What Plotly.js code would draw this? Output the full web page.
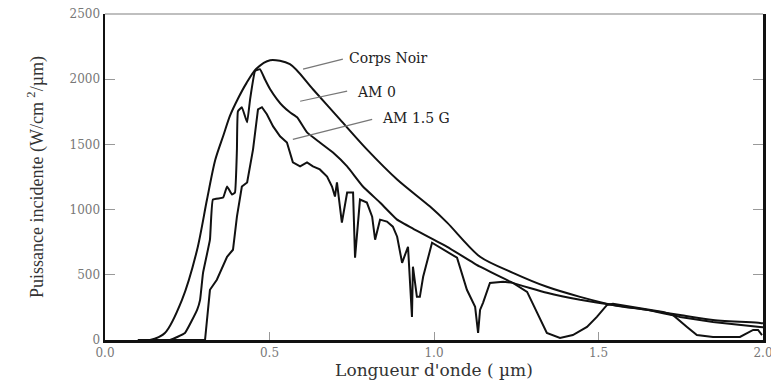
<!DOCTYPE html>
<html>
<head>
<meta charset="utf-8">
<script src="https://cdn.plot.ly/plotly-3.0.1.min.js"></script>
<style>html,body{margin:0;padding:0;background:#fff;}#chart{width:771px;height:385px;}</style>
</head>
<body>
<div id="chart"></div>
<script>
// Corps Noir (black body)
const cnX = [0.10,0.137,0.182,0.234,0.280,0.310,0.335,0.360,0.380,0.404,0.430,0.460,0.502,0.562,0.632,0.714,0.796,0.888,0.988,1.040,1.140,1.240,1.343,1.444,1.544,1.647,1.748,1.848,1.991,2.0];
const cnY = [0,0,54,308,692,1077,1380,1570,1720,1850,1970,2080,2146,2115,1923,1692,1462,1231,1023,900,638,515,408,331,269,231,192,154,131,128];

// AM 0
const am0X = [0.10,0.198,0.243,0.280,0.289,0.298,0.319,0.328,0.359,0.371,0.386,0.395,0.401,0.404,0.416,0.432,0.441,0.456,0.471,0.486,0.502,0.523,0.541,0.562,0.584,0.614,0.653,0.693,0.736,0.784,0.836,0.888,0.936,1.040,1.140,1.240,1.343,1.444,1.544,1.647,1.748,1.848,1.991,2.0];
const am0Y = [0,0,54,231,308,515,769,1077,1092,1177,1115,1131,1462,1754,1785,1669,1846,2062,2077,2000,1923,1846,1792,1746,1708,1592,1515,1438,1331,1177,1054,923,854,715,562,438,362,308,269,231,177,138,100,98];

// AM 1.5 G
const am15X = [0.10,0.304,0.319,0.340,0.371,0.389,0.401,0.416,0.432,0.441,0.450,0.465,0.477,0.492,0.511,0.532,0.553,0.571,0.593,0.614,0.632,0.653,0.675,0.690,0.699,0.705,0.720,0.736,0.754,0.760,0.775,0.796,0.812,0.821,0.836,0.857,0.875,0.888,0.903,0.921,0.933,0.936,0.948,0.957,0.967,0.994,1.070,1.100,1.125,1.134,1.140,1.149,1.170,1.210,1.240,1.283,1.313,1.343,1.383,1.422,1.465,1.495,1.526,1.544,1.696,1.726,1.769,1.799,1.848,1.930,1.970,1.985,1.997];
const am15Y = [0,0,385,462,638,692,946,1177,1208,1331,1462,1769,1785,1731,1638,1562,1515,1362,1331,1362,1331,1308,1254,1177,1100,1208,900,1131,1131,631,1077,1054,946,769,923,908,869,792,592,715,177,562,331,331,485,746,631,385,254,54,231,285,438,446,438,369,208,54,15,38,100,177,269,277,215,192,100,38,23,23,77,77,38];

const labels = ["Corps Noir","AM 0","AM 1.5 G"];
const xTicks = [0.0,0.5,1.0,1.5,2.0];
const yTicks = [0,500,1000,1500,2000,2500];

const serif = "Liberation Serif, Times New Roman, serif";
const wide = "DejaVu Serif, serif";

const traces = [
  {x:cnX, y:cnY, name:labels[0], mode:"lines", line:{color:"#111", width:2, shape:"spline", smoothing:0.8}, hoverinfo:"skip"},
  {x:am0X, y:am0Y, name:labels[1], mode:"lines", line:{color:"#111", width:2, shape:"spline", smoothing:0.3}, hoverinfo:"skip"},
  {x:am15X, y:am15Y, name:labels[2], mode:"lines", line:{color:"#111", width:2}, hoverinfo:"skip"}
];

// annotation anchor positions (data coords) for labels with leader lines
const labelPos = [[0.736,2160],[0.759,1900],[0.836,1700]];
const leadFrom = [[0.602,2077],[0.593,1831],[0.571,1538]];
const leadTo = [[0.723,2154],[0.736,1908],[0.812,1692]];

const annotations = labels.map((t,i)=>({
  x:labelPos[i][0], y:labelPos[i][1], xref:"x", yref:"y", text:t, showarrow:false,
  xanchor:"left", yanchor:"middle", font:{family:wide, size:14, color:"#222"}
}));
const shapes = labels.map((t,i)=>({
  type:"line", xref:"x", yref:"y", x0:leadFrom[i][0], y0:leadFrom[i][1], x1:leadTo[i][0], y1:leadTo[i][1],
  line:{color:"#777", width:1.2}
}));
shapes.push({type:"line", xref:"paper", yref:"paper", x0:0, x1:1, y0:1, y1:1, line:{color:"#aaa", width:1.5}});

const layout = {
  width:771, height:385,
  margin:{l:105, r:8, t:14, b:45},
  paper_bgcolor:"#fff", plot_bgcolor:"#fff",
  showlegend:false,
  font:{family:serif, color:"#444"},
  xaxis:{
    range:[0,2], tickvals:xTicks, ticktext:xTicks.map(v=>v.toFixed(1)),
    ticks:"inside", ticklen:8, tickcolor:"#999", showgrid:false, zeroline:false,
    showline:true, linecolor:"#111", linewidth:2.5, ticklabeloverflow:"allow",
    tickfont:{family:wide, size:12, color:"#777"},
    title:{text:"Longueur d'onde ( µm)", font:{family:wide, size:17, color:"#333"}, standoff:3}
  },
  yaxis:{
    range:[0,2500], tickvals:yTicks, ticktext:yTicks.map(String),
    ticks:"inside", ticklen:10, tickcolor:"#999", showgrid:false, zeroline:false,
    showline:true, mirror:"ticks", linecolor:"#111", linewidth:2.5,
    tickfont:{family:wide, size:12, color:"#777"},
    title:{text:"Puissance incidente (W/cm <sup>2</sup>/µm)", font:{family:serif, size:18, color:"#333"}, standoff:22}
  },
  annotations:annotations,
  shapes:shapes
};

Plotly.newPlot("chart", traces, layout, {displayModeBar:false, staticPlot:true});
</script>
</body>
</html>
